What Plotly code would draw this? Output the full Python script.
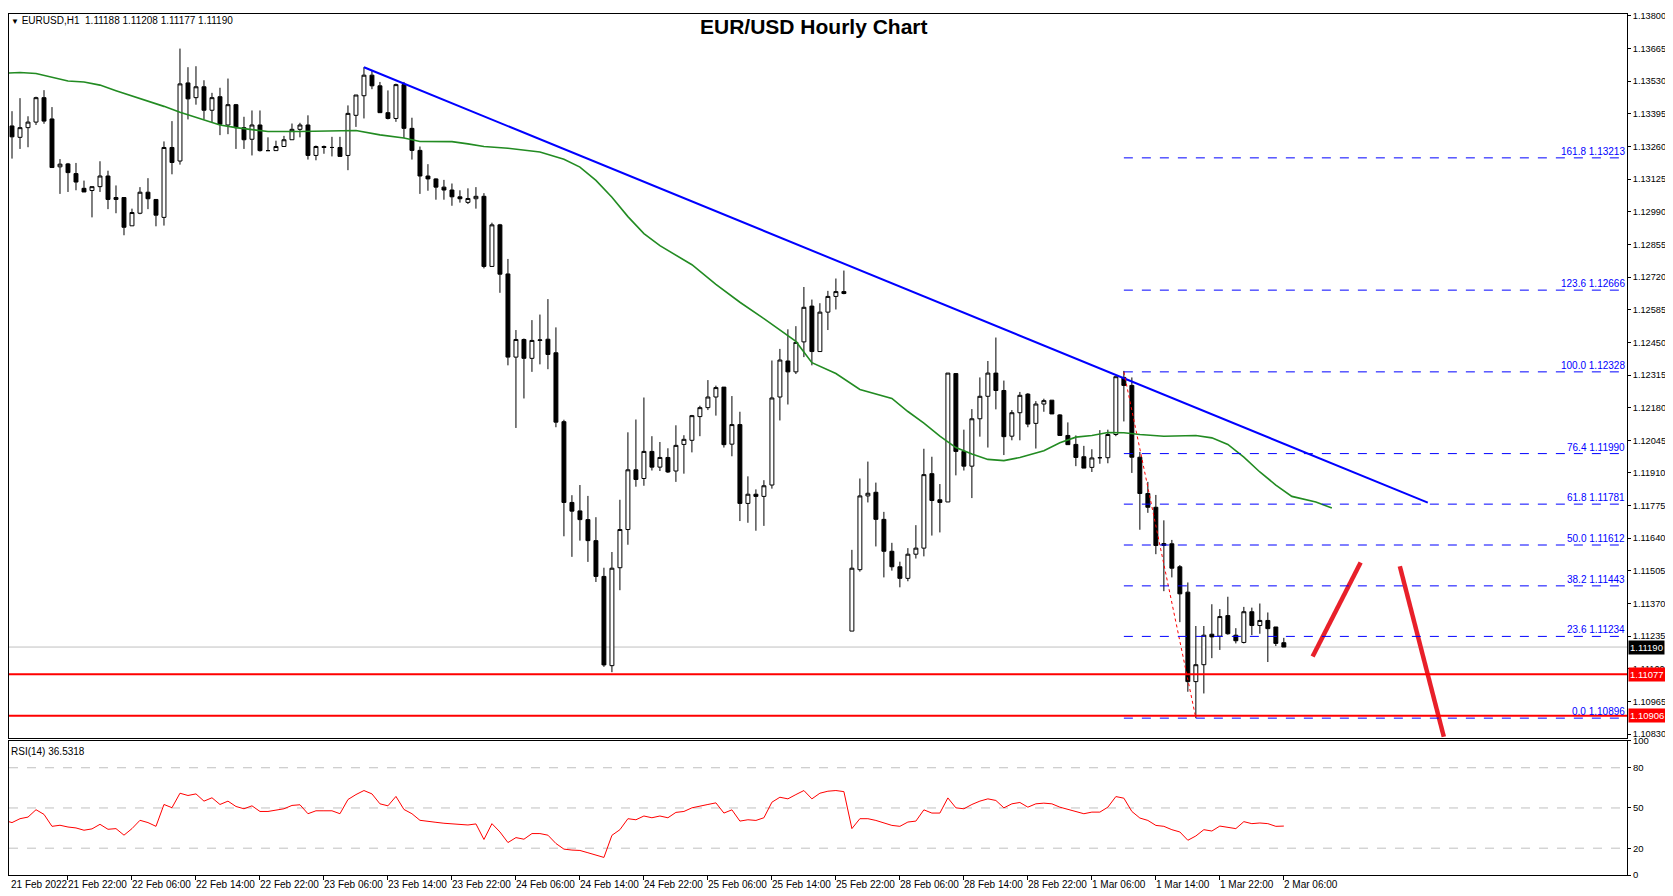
import plotly.graph_objects as go

# ---------------- data ----------------
O = [1.13473,1.13345,1.13298,1.13338,1.13361,1.13462,1.13374,1.13176,1.13188,1.13148,
     1.13087,1.13078,1.13094,1.13138,1.13041,1.13049,1.12932,1.12984,1.13071,1.13041,
     1.12967,1.13256,1.13200,1.13523,1.13462,1.13507,1.13410,1.13466,1.13349,1.13433,
     1.13338,1.13290,1.13349,1.13243,1.13243,1.13260,1.13288,1.13331,1.13349,1.13223,
     1.13260,1.13256,1.13256,1.13223,1.13389,1.13470,1.13555,1.13511,1.13400,1.13376,
     1.13516,1.13335,1.13244,1.13138,1.13126,1.13092,1.13080,1.13052,1.13029,1.13044,
     1.13054,1.12764,1.12936,1.12733,1.12389,1.12462,1.12384,1.12458,1.12463,1.12407,
     1.12122,1.11788,1.11753,1.11717,1.11630,1.11482,1.11113,1.11518,1.11676,1.11923,
     1.11887,1.11999,1.11934,1.11974,1.11918,1.12028,1.12045,1.12143,1.12180,1.12224,
     1.12265,1.12029,1.12110,1.11784,1.11822,1.11813,1.11860,1.12224,1.12373,1.12328,
     1.12452,1.12600,1.12412,1.12575,1.12640,1.12660,1.11256,1.11510,1.11815,1.11830,
     1.11718,1.11586,1.11522,1.11474,1.11574,1.11599,1.11907,1.11799,1.11790,1.12321,
     1.11999,1.11938,1.12134,1.12227,1.12323,1.12251,1.12062,1.12159,1.12236,1.12115,
     1.12195,1.12211,1.12150,1.12065,1.12028,1.11977,1.11933,1.11973,1.11973,1.12069,
     1.12305,1.12272,1.11975,1.11825,1.11768,1.11610,1.11617,1.11522,1.11417,1.11047,
     1.11117,1.11243,1.11235,1.11320,1.11239,1.11209,1.11336,1.11279,1.11300,1.11273,
     1.11208]
H = [1.13507,1.13406,1.13460,1.13385,1.13466,1.13493,1.13423,1.13208,1.13192,1.13192,
     1.13119,1.13094,1.13199,1.13160,1.13099,1.13049,1.13003,1.13092,1.13129,1.13041,
     1.13281,1.13365,1.13665,1.13588,1.13592,1.13534,1.13482,1.13503,1.13541,1.13436,
     1.13383,1.13409,1.13409,1.13298,1.13284,1.13304,1.13355,1.13358,1.13389,1.13264,
     1.13264,1.13300,1.13300,1.13430,1.13473,1.13588,1.13573,1.13527,1.13492,1.13520,
     1.13527,1.13379,1.13260,1.13187,1.13128,1.13122,1.13107,1.13079,1.13087,1.13092,
     1.13067,1.12945,1.12940,1.12795,1.12501,1.12466,1.12542,1.12565,1.12629,1.12512,
     1.12130,1.11818,1.11860,1.11815,1.11727,1.11518,1.11583,1.11799,1.12078,1.12131,
     1.12222,1.12062,1.12038,1.12012,1.12107,1.12066,1.12150,1.12188,1.12294,1.12271,
     1.12265,1.12228,1.12163,1.11896,1.11842,1.11880,1.12375,1.12423,1.12504,1.12517,
     1.12679,1.12627,1.12612,1.12663,1.12714,1.12747,1.11592,1.11887,1.11957,1.11870,
     1.11749,1.11621,1.11543,1.11599,1.11694,1.12010,1.11977,1.11864,1.12323,1.12321,
     1.12089,1.12174,1.12305,1.12373,1.12470,1.12292,1.12170,1.12245,1.12240,1.12207,
     1.12217,1.12211,1.12153,1.12119,1.12065,1.12022,1.12008,1.12087,1.12089,1.12308,
     1.12332,1.12305,1.11997,1.11873,1.11819,1.11714,1.11633,1.11529,1.11457,1.11277,
     1.11277,1.11367,1.11347,1.11398,1.11268,1.11356,1.11353,1.11370,1.11333,1.11273,
     1.11228]
L = [1.13325,1.13210,1.13250,1.13257,1.13349,1.13354,1.13173,1.13064,1.13072,1.13079,
     1.13072,1.12967,1.13072,1.13001,1.12984,1.12893,1.12932,1.12980,1.13001,1.12930,
     1.12933,1.13145,1.13185,1.13372,1.13433,1.13372,1.13358,1.13307,1.13311,1.13250,
     1.13250,1.13223,1.13239,1.13243,1.13243,1.13260,1.13288,1.13298,1.13206,1.13203,
     1.13230,1.13219,1.13219,1.13162,1.13341,1.13376,1.13497,1.13400,1.13372,1.13362,
     1.13295,1.13206,1.13064,1.13077,1.13040,1.13040,1.13015,1.13028,1.13022,1.13003,
     1.12756,1.12764,1.12655,1.12355,1.12096,1.12218,1.12328,1.12359,1.12339,1.12099,
     1.11648,1.11563,1.11630,1.11542,1.11459,1.11108,1.11086,1.11425,1.11613,1.11853,
     1.11857,1.11920,1.11918,1.11910,1.11873,1.11907,1.11995,1.12062,1.12170,1.12147,
     1.12015,1.11979,1.11711,1.11704,1.11671,1.11691,1.11845,1.12127,1.12193,1.12319,
     1.12389,1.12355,1.12412,1.12501,1.12586,1.12649,1.11256,1.11502,1.11788,1.11606,
     1.11478,1.11506,1.11437,1.11462,1.11556,1.11565,1.11651,1.11664,1.11790,1.11900,
     1.11920,1.11806,1.12060,1.12015,1.12173,1.11984,1.12045,1.12045,1.12099,1.12011,
     1.12163,1.12154,1.12065,1.12027,1.11938,1.11930,1.11914,1.11948,1.11950,1.12062,
     1.12123,1.11910,1.11675,1.11745,1.11574,1.11421,1.11478,1.11293,1.11005,1.10896,
     1.10998,1.11144,1.11178,1.11241,1.11205,1.11205,1.11239,1.11245,1.11128,1.11194,
     1.11194]
C = [1.13345,1.13300,1.13338,1.13361,1.13462,1.13365,1.13173,1.13187,1.13152,1.13113,
     1.13072,1.13094,1.13138,1.13041,1.13049,1.12926,1.12987,1.13071,1.13044,1.12976,
     1.13256,1.13194,1.13519,1.13457,1.13507,1.13410,1.13462,1.13352,1.13433,1.13338,
     1.13288,1.13349,1.13243,1.13243,1.13260,1.13288,1.13331,1.13349,1.13223,1.13260,
     1.13256,1.13256,1.13219,1.13397,1.13473,1.13555,1.13511,1.13400,1.13376,1.13516,
     1.13335,1.13244,1.13138,1.13126,1.13092,1.13080,1.13052,1.13044,1.13045,1.13054,
     1.12764,1.12936,1.12732,1.12389,1.12462,1.12384,1.12458,1.12460,1.12400,1.12120,
     1.11788,1.11752,1.11717,1.11630,1.11482,1.11116,1.11516,1.11676,1.11923,1.11883,
     1.11999,1.11934,1.11974,1.11914,1.12024,1.12049,1.12147,1.12180,1.12224,1.12263,
     1.12027,1.12110,1.11784,1.11822,1.11813,1.11857,1.12220,1.12377,1.12328,1.12450,
     1.12595,1.12412,1.12575,1.12640,1.12660,1.12652,1.11516,1.11815,1.11826,1.11718,
     1.11586,1.11522,1.11474,1.11574,1.11599,1.11903,1.11796,1.11788,1.12323,1.11999,
     1.11938,1.12134,1.12227,1.12323,1.12251,1.12060,1.12159,1.12231,1.12112,1.12195,
     1.12209,1.12154,1.12065,1.12027,1.11974,1.11930,1.11972,1.11973,1.12069,1.12308,
     1.12272,1.11975,1.11825,1.11768,1.11610,1.11618,1.11516,1.11410,1.11047,1.11117,
     1.11239,1.11232,1.11316,1.11245,1.11216,1.11336,1.11279,1.11300,1.11266,1.11205,
     1.11190]

RSI = [40.8,39.1,42.0,43.2,48.7,45.2,36.3,37.1,35.8,35.1,33.4,34.4,37.8,34.1,34.6,29.7,
       34.6,40.8,39.1,36.3,52.6,50.2,61.0,59.3,60.5,55.1,57.6,52.6,55.1,51.1,49.4,51.6,
       47.4,47.4,48.4,49.4,51.9,52.4,45.7,47.9,47.9,47.9,45.7,56.3,60.0,63.0,60.5,53.1,
       51.6,58.6,48.9,45.7,40.8,40.3,39.3,38.6,38.1,37.3,37.3,38.1,26.5,38.3,32.1,24.2,
       27.9,26.7,30.9,30.9,29.7,23.5,19.3,18.6,18.3,16.6,14.9,13.1,29.6,33.8,42.0,41.2,
       44.0,42.7,44.0,42.7,46.7,47.4,50.1,51.1,52.6,53.8,46.2,48.6,40.2,41.2,40.7,42.7,
       54.3,58.0,56.8,60.0,63.0,56.8,61.0,62.5,63.0,62.2,34.6,42.0,42.0,40.7,38.8,37.0,
       36.3,39.5,40.2,48.6,46.2,46.2,57.5,50.1,49.4,52.6,55.1,56.8,55.6,50.1,53.1,54.1,
       50.6,53.1,53.6,53.1,50.6,48.9,47.7,45.7,46.9,46.9,50.6,58.5,57.3,47.4,42.5,40.7,
       37.0,36.3,33.8,32.1,25.9,29.1,33.8,32.8,36.5,35.3,34.6,39.8,38.3,38.8,38.3,36.3,
       36.5]

MA_X = [0,2,4,6,8,10,12,14,16,18,20,22,25,27,29,31,33,37,42,44,47,50,52,56,58,60,63,65,67,
        70,72,74,76,78,80,82,84,86,89,92,95,99,101,104,107,111,113,115,117,119,121,123,125,
        127,130,132,134,136,138,140,142,145,149,151,153,155,157,159,161,164,166]
MA_Y = [1.13563,1.13566,1.13562,1.13547,1.13531,1.13527,1.13514,1.13491,1.13470,1.13449,
        1.13426,1.13402,1.13372,1.13349,1.13338,1.13330,1.13322,1.13322,1.13327,1.13326,
        1.13308,1.13295,1.13281,1.13280,1.13271,1.13260,1.13253,1.13244,1.13237,1.13207,
        1.13175,1.13120,1.13050,1.12970,1.12900,1.12850,1.12810,1.12771,1.12690,1.12616,
        1.12548,1.12454,1.12366,1.12321,1.12255,1.12218,1.12164,1.12116,1.12062,1.12015,
        1.11988,1.11966,1.11961,1.11974,1.12002,1.12035,1.12058,1.12065,1.12077,1.12076,
        1.12069,1.12062,1.12065,1.12055,1.12028,1.11975,1.11914,1.11860,1.11813,1.11790,
        1.11765]

TREND_X = [45, 178]
TREND_Y = [1.13588, 1.11787]

FIB_LEVELS = ["161.8", "123.6", "100.0", "76.4", "61.8", "50.0", "38.2", "23.6", "0.0"]
FIB_PRICES = [1.13213, 1.12666, 1.12328, 1.11990, 1.11781, 1.11612, 1.11443, 1.11234, 1.10896]
FIB_START = 140
FIB_LINE_X = [140, 149]
FIB_LINE_Y = [1.12328, 1.10896]

SUPPORTS = [1.11077, 1.10906]
LAST_PRICE = 1.11190

ARROW1_X = [163.6, 169.6]
ARROW1_Y = [1.11151, 1.11540]
ARROW2_X = [174.5, 180.0]
ARROW2_Y = [1.11524, 1.10819]

PRICE_TICKS = [1.13800,1.13665,1.13530,1.13395,1.13260,1.13125,1.12990,1.12855,1.12720,
               1.12585,1.12450,1.12315,1.12180,1.12045,1.11910,1.11775,1.11640,1.11505,
               1.11370,1.11235,1.11100,1.10965,1.10830]
TIME_LABELS = ["21 Feb 2022","21 Feb 22:00","22 Feb 06:00","22 Feb 14:00","22 Feb 22:00",
               "23 Feb 06:00","23 Feb 14:00","23 Feb 22:00","24 Feb 06:00","24 Feb 14:00",
               "24 Feb 22:00","25 Feb 06:00","25 Feb 14:00","25 Feb 22:00","28 Feb 06:00",
               "28 Feb 14:00","28 Feb 22:00","1 Mar 06:00","1 Mar 14:00","1 Mar 22:00",
               "2 Mar 06:00"]
TIME_POS = [8 * k for k in range(len(TIME_LABELS))]
RSI_LEVELS = [20, 50, 80]
RSI_TICKS = [0, 20, 50, 80, 100]

# ---------------- figure ----------------
# the page body adds an 8px offset, so the figure is 8px smaller and shifted
X = list(range(len(C)))
FONT = "Liberation Sans"
XR = [0.625, 202.9]
PH = 867.0  # plot height in px

fig = go.Figure()
fig.add_trace(go.Candlestick(
    x=X, open=O, high=H, low=L, close=C, xaxis="x", yaxis="y",
    increasing=dict(line=dict(color="black", width=1), fillcolor="white"),
    decreasing=dict(line=dict(color="black", width=1), fillcolor="black"),
    whiskerwidth=0, showlegend=False, hoverinfo="skip"))
fig.add_trace(go.Scatter(x=MA_X, y=MA_Y, mode="lines", line=dict(color="#228B22", width=1.6),
                         xaxis="x", yaxis="y", showlegend=False))
fig.add_trace(go.Scatter(x=TREND_X, y=TREND_Y, mode="lines", line=dict(color="#0000FF", width=2),
                         xaxis="x", yaxis="y", showlegend=False))
fig.add_trace(go.Scatter(x=FIB_LINE_X, y=FIB_LINE_Y, mode="lines",
                         line=dict(color="#FF0000", width=1, dash="dot"),
                         xaxis="x", yaxis="y", showlegend=False))
for ax, ay in ((ARROW1_X, ARROW1_Y), (ARROW2_X, ARROW2_Y)):
    fig.add_trace(go.Scatter(x=ax, y=ay, mode="lines", line=dict(color="#E8202A", width=4.5),
                             xaxis="x", yaxis="y", showlegend=False))
fig.add_trace(go.Scatter(x=X, y=RSI, mode="lines", line=dict(color="#FF0000", width=1),
                         xaxis="x2", yaxis="y2", showlegend=False))

shapes = []
annotations = []
shapes.append(dict(type="line", xref="x", yref="y", x0=XR[0], x1=XR[1], y0=LAST_PRICE, y1=LAST_PRICE,
                   line=dict(color="#C0C0C0", width=1), layer="below"))
for s in SUPPORTS:
    shapes.append(dict(type="line", xref="x", yref="y", x0=XR[0], x1=XR[1], y0=s, y1=s,
                       line=dict(color="#FF0000", width=2)))
for lvl, p in zip(FIB_LEVELS, FIB_PRICES):
    shapes.append(dict(type="line", xref="x", yref="y", x0=FIB_START, x1=XR[1], y0=p, y1=p,
                       line=dict(color="#0000FF", width=1, dash="dash")))
    annotations.append(dict(x=XR[1], y=p, xref="x", yref="y", text=f"{lvl} {p:.5f}",
                            showarrow=False, xanchor="right", yanchor="bottom", yshift=-1,
                            font=dict(family=FONT, size=10, color="#0000FF")))
for lv in RSI_LEVELS:
    shapes.append(dict(type="line", xref="x2", yref="y2", x0=XR[0], x1=XR[1], y0=lv, y1=lv,
                       line=dict(color="#C0C0C0", width=1, dash="dash"), layer="below"))

for s, bg in ((LAST_PRICE, "black"), (SUPPORTS[0], "#FF0000"), (SUPPORTS[1], "#FF0000")):
    annotations.append(dict(x=1, y=s, xref="paper", yref="y", text=f"{s:.5f}", showarrow=False,
                            xanchor="left", yanchor="middle", bgcolor=bg, borderpad=1,
                            font=dict(family=FONT, size=9.5, color="white"), xshift=1))

for lab, pos in zip(TIME_LABELS, TIME_POS):
    if pos < XR[0]:
        annotations.append(dict(x=0, y=0, xref="paper", yref="paper", text=lab, showarrow=False,
                                xanchor="left", yanchor="top", yshift=-2,
                                font=dict(family=FONT, size=10, color="black")))
    else:
        annotations.append(dict(x=pos, y=0, xref="x2", yref="paper", text=lab, showarrow=False,
                                xanchor="left", yanchor="top", yshift=-2, xshift=-2,
                                font=dict(family=FONT, size=10, color="black")))

annotations.append(dict(x=0.4975, y=1, xref="paper", yref="paper",
                        text="<b>EUR/USD Hourly Chart</b>", showarrow=False,
                        xanchor="center", yanchor="top", yshift=1,
                        font=dict(family=FONT, size=21, color="black")))
annotations.append(dict(x=0.0, y=1, xref="paper", yref="paper",
                        text="<span style='font-size:8px'>▼</span> EURUSD,H1  1.11188 1.11208 1.11177 1.11190",
                        showarrow=False, xanchor="left", yanchor="top", yshift=1,
                        font=dict(family=FONT, size=10, color="black")))
annotations.append(dict(x=0.0, y=135 / PH - 3 / PH, xref="paper", yref="paper",
                        text="RSI(14) 36.5318", showarrow=False, xanchor="left", yanchor="top",
                        font=dict(family=FONT, size=10, color="black")))

axis_common = dict(showgrid=False, zeroline=False, showline=True, linecolor="black",
                   linewidth=1, mirror=True)
fig.update_layout(
    width=1665, height=888,
    margin=dict(l=0, r=46, t=0, b=21),
    paper_bgcolor="white", plot_bgcolor="white",
    shapes=shapes, annotations=annotations,
    xaxis=dict(domain=[0, 1], anchor="y", range=XR, showticklabels=False,
               rangeslider=dict(visible=False), **axis_common),
    yaxis=dict(domain=[138 / PH, 1], anchor="x", range=[1.10814, 1.13808], side="right",
               tickvals=PRICE_TICKS, ticktext=[f"{t:.5f}" for t in PRICE_TICKS],
               ticks="outside", ticklen=3, tickcolor="black",
               tickfont=dict(family=FONT, size=9.2, color="black"), **axis_common),
    xaxis2=dict(domain=[0, 1], anchor="y2", range=XR, tickvals=TIME_POS, ticks="outside",
                ticklen=4, tickcolor="black", showticklabels=False, **axis_common),
    yaxis2=dict(domain=[0, 135 / PH], anchor="x2", range=[0, 100], side="right",
                tickvals=RSI_TICKS, ticks="outside", ticklen=3, tickcolor="black",
                tickfont=dict(family=FONT, size=9.5, color="black"), **axis_common),
)
fig.write_html("out.html")
